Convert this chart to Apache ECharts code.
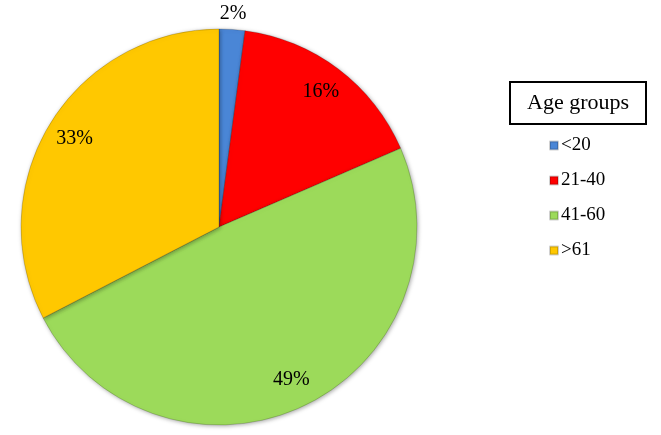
<!DOCTYPE html>
<html>
<head>
<meta charset="utf-8">
<script src="https://cdn.jsdelivr.net/npm/echarts@6/dist/echarts.min.js"></script>
<style>
  html, body { margin: 0; padding: 0; background: #fff; }
  #chart { width: 661px; height: 435px; }
</style>
</head>
<body>
<div id="chart"></div>
<script>
// age groups and their shares (%)
var groups = ['<20', '21-40', '41-60', '>61']
var shares = [2.1, 16.4, 48.9, 32.6]
var colors = ['#4A86D6', '#FF0000', '#9CDA5A', '#FFC800']

var Chart = echarts.init(document.getElementById('chart'))

var center = [219, 227]
var font = 'Liberation Serif, Times New Roman, serif'

function sliceData(showFn) {
  return groups.map(function (g, i) {
    return {
      name: g,
      value: shares[i],
      label: { show: showFn(i) }
    }
  })
}

var option = {
  color: colors,
  title: {
    text: 'Age groups',
    left: 510,
    top: 82,
    padding: [10, 17, 10, 17],
    borderColor: '#000',
    borderWidth: 2,
    textStyle: { fontFamily: font, fontSize: 22, fontWeight: 'normal', color: '#000' }
  },
  legend: {
    orient: 'vertical',
    left: 544,
    top: 131,
    itemWidth: 8,
    itemHeight: 8,
    itemGap: 16,
    icon: 'rect',
    data: groups,
    textStyle: { fontFamily: font, fontSize: 19, color: '#000', padding: [0, 0, 0, -2] }
  },
  series: [{
    // main pie
    type: 'pie',
    center: center,
    radius: 198,
    startAngle: 90,
    clockwise: true,
    animation: false,
    percentPrecision: 0,
    data: groups.map(function (g, i) { return { name: g, value: shares[i] } }),
    label: { show: false },
    labelLine: { show: false },
    itemStyle: {
      borderColor: 'rgba(0,0,0,0.18)',
      borderWidth: 1,
      shadowColor: 'rgba(0,0,0,0.35)',
      shadowBlur: 4,
      shadowOffsetX: 1,
      shadowOffsetY: 1
    }
  }, {
    // transparent ring carrying the inner labels
    type: 'pie',
    center: center,
    radius: [148, 184],
    startAngle: 90,
    animation: false,
    silent: true,
    legendHoverLink: false,
    percentPrecision: 0,
    data: sliceData(function (i) { return i > 0 }),
    itemStyle: { color: 'rgba(0,0,0,0)' },
    label: {
      position: 'inside',
      formatter: '{d}%',
      fontFamily: font,
      fontSize: 20,
      color: '#000'
    },
    labelLine: { show: false }
  }, {
    // ring above the pie for the small slice label
    type: 'pie',
    center: center,
    radius: [203, 218],
    startAngle: 90,
    animation: false,
    silent: true,
    legendHoverLink: false,
    percentPrecision: 0,
    data: sliceData(function (i) { return i === 0 }),
    itemStyle: { color: 'rgba(0,0,0,0)' },
    label: {
      position: 'inside',
      formatter: '{d}%',
      fontFamily: font,
      fontSize: 20,
      color: '#000'
    },
    labelLine: { show: false }
  }]
}

Chart.setOption(option)
</script>
</body>
</html>
